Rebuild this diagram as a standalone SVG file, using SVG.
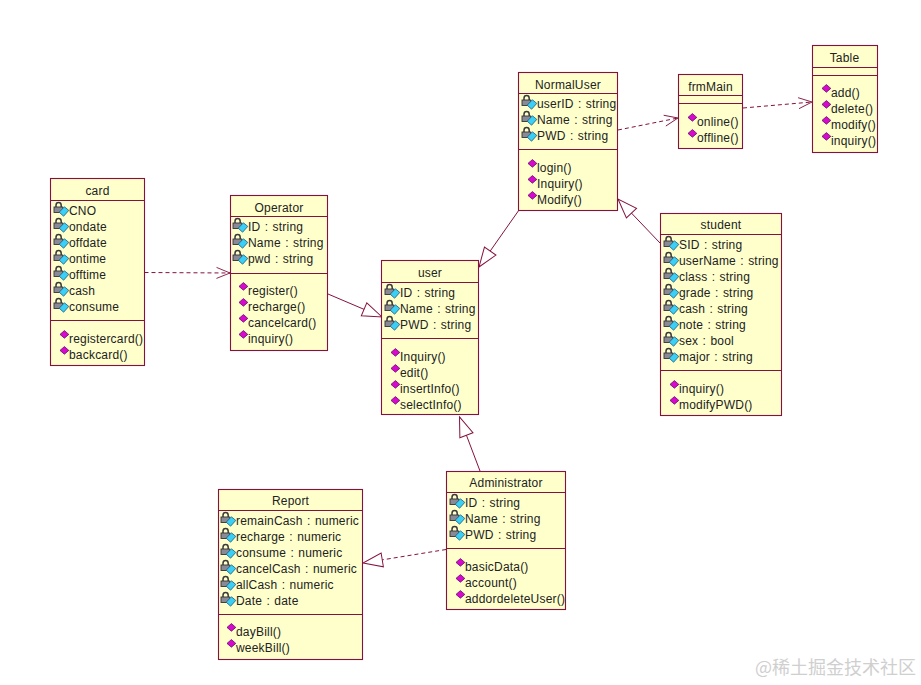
<svg xmlns="http://www.w3.org/2000/svg" width="921" height="685" viewBox="0 0 921 685">
<style>
.box{fill:#FFFFCC;stroke:#84123F;stroke-width:1.1}
.div{stroke:#84123F;stroke-width:1.1;fill:none}
.t{font-family:"Liberation Sans",Arial,sans-serif;font-size:12px;fill:#222;letter-spacing:.2px;word-spacing:.8px}
.h{text-anchor:middle}
.c{fill:none;stroke:#84123F;stroke-width:1}
.d{stroke-dasharray:4 3}
.wm{font-family:"Noto Sans CJK SC","Liberation Sans",sans-serif;font-size:18px;fill:#cfcfcf}
</style>
<defs>
<g id="a">
<path d="M-13 -8v-1.8a2.6 2.6 0 0 1 5.2 0v1.8" fill="none" stroke="#3a3a3a" stroke-width="1.5"/>
<rect x="-15" y="-8" width="8.8" height="5.5" fill="#8a8a96" stroke="#333" stroke-width="0.9"/>
<path d="M-4.6 -8.2L-0.2 -4.6L-5.4 1.2L-9.8 -2.8Z" fill="#3CCFF5" stroke="#1a5a78" stroke-width="0.8"/>
</g>
<path id="m" d="M-4.6 -12.4L-0.2 -8.6L-4.6 -4.8L-9 -8.6Z" fill="#D808D0" stroke="#601060" stroke-width="0.8"/>
<marker id="open" markerUnits="userSpaceOnUse" markerWidth="16" markerHeight="14" refX="14.5" refY="7" orient="auto" viewBox="0 0 16 14">
<path d="M1 1.5L14.5 7L1 12.5" fill="none" stroke="#84123F" stroke-width="0.9"/>
</marker>
<marker id="tri" markerUnits="userSpaceOnUse" markerWidth="24" markerHeight="18" refX="21" refY="9" orient="auto" viewBox="0 0 24 18">
<path d="M21 9L1.5 2L1.5 16Z" fill="#fff" stroke="#84123F" stroke-width="1"/>
</marker>
</defs>
<rect width="921" height="685" fill="#fff"/>
<g id="connectors">
<path class="c d" d="M144.5 272.5L230 273" marker-end="url(#open)"/>
<path class="c d" d="M618 130L678 118" marker-end="url(#open)"/>
<path class="c d" d="M743 108L812 102" marker-end="url(#open)"/>
<path class="c" d="M519 210L479 267" marker-end="url(#tri)"/>
<path class="c" d="M328 294L382 317" marker-end="url(#tri)"/>
<path class="c" d="M660 243L618 199" marker-end="url(#tri)"/>
<path class="c" d="M480 471L459.5 417" marker-end="url(#tri)"/>
<path class="c d" d="M446 549.5L363 563" marker-end="url(#tri)"/>
</g>
<g id="card">
<rect class="box" x="50.5" y="178.5" width="94" height="187"/>
<path class="div" d="M50.5 200.5H144.5M50.5 320.5H144.5"/>
<text class="t h" x="97.5" y="195">card</text>
<use href="#a" x="69" y="215"/><text class="t" x="69" y="215">CNO</text>
<use href="#a" x="69" y="231"/><text class="t" x="69" y="231">ondate</text>
<use href="#a" x="69" y="247"/><text class="t" x="69" y="247">offdate</text>
<use href="#a" x="69" y="263"/><text class="t" x="69" y="263">ontime</text>
<use href="#a" x="69" y="279"/><text class="t" x="69" y="279">offtime</text>
<use href="#a" x="69" y="295"/><text class="t" x="69" y="295">cash</text>
<use href="#a" x="69" y="311"/><text class="t" x="69" y="311">consume</text>
<use href="#m" x="69" y="343"/><text class="t" x="69" y="343">registercard()</text>
<use href="#m" x="69" y="359"/><text class="t" x="69" y="359">backcard()</text>
</g>
<g id="operator">
<rect class="box" x="230.5" y="195.5" width="97" height="155"/>
<path class="div" d="M230.5 216.5H327.5M230.5 273.5H327.5"/>
<text class="t h" x="279" y="212">Operator</text>
<use href="#a" x="248" y="231"/><text class="t" x="248" y="231">ID : string</text>
<use href="#a" x="248" y="247"/><text class="t" x="248" y="247">Name : string</text>
<use href="#a" x="248" y="263"/><text class="t" x="248" y="263">pwd : string</text>
<use href="#m" x="248" y="295"/><text class="t" x="248" y="295">register()</text>
<use href="#m" x="248" y="311"/><text class="t" x="248" y="311">recharge()</text>
<use href="#m" x="248" y="327"/><text class="t" x="248" y="327">cancelcard()</text>
<use href="#m" x="248" y="343"/><text class="t" x="248" y="343">inquiry()</text>
</g>
<g id="user">
<rect class="box" x="381.5" y="260.5" width="97" height="154"/>
<path class="div" d="M381.5 282.5H478.5M381.5 338.5H478.5"/>
<text class="t h" x="430" y="277">user</text>
<use href="#a" x="400" y="297"/><text class="t" x="400" y="297">ID : string</text>
<use href="#a" x="400" y="313"/><text class="t" x="400" y="313">Name : string</text>
<use href="#a" x="400" y="329"/><text class="t" x="400" y="329">PWD : string</text>
<use href="#m" x="400" y="361"/><text class="t" x="400" y="361">Inquiry()</text>
<use href="#m" x="400" y="377"/><text class="t" x="400" y="377">edit()</text>
<use href="#m" x="400" y="393"/><text class="t" x="400" y="393">insertInfo()</text>
<use href="#m" x="400" y="409"/><text class="t" x="400" y="409">selectInfo()</text>
</g>
<g id="normaluser">
<rect class="box" x="518.5" y="72.5" width="99" height="138"/>
<path class="div" d="M518.5 93.5H617.5M518.5 149.5H617.5"/>
<text class="t h" x="568" y="89">NormalUser</text>
<use href="#a" x="537" y="108"/><text class="t" x="537" y="108">userID : string</text>
<use href="#a" x="537" y="124"/><text class="t" x="537" y="124">Name : string</text>
<use href="#a" x="537" y="140"/><text class="t" x="537" y="140">PWD : string</text>
<use href="#m" x="537" y="172"/><text class="t" x="537" y="172">login()</text>
<use href="#m" x="537" y="188"/><text class="t" x="537" y="188">Inquiry()</text>
<use href="#m" x="537" y="204"/><text class="t" x="537" y="204">Modify()</text>
</g>
<g id="frmmain">
<rect class="box" x="678.5" y="74.5" width="64" height="74"/>
<path class="div" d="M678.5 95.5H742.5M678.5 103.5H742.5"/>
<text class="t h" x="710.5" y="91">frmMain</text>
<use href="#m" x="697" y="126"/><text class="t" x="697" y="126">online()</text>
<use href="#m" x="697" y="142"/><text class="t" x="697" y="142">offline()</text>
</g>
<g id="table">
<rect class="box" x="812.5" y="45.5" width="65" height="107"/>
<path class="div" d="M812.5 67.5H877.5M812.5 75.5H877.5"/>
<text class="t h" x="844.5" y="62">Table</text>
<use href="#m" x="831" y="97"/><text class="t" x="831" y="97">add()</text>
<use href="#m" x="831" y="113"/><text class="t" x="831" y="113">delete()</text>
<use href="#m" x="831" y="129"/><text class="t" x="831" y="129">modify()</text>
<use href="#m" x="831" y="145"/><text class="t" x="831" y="145">inquiry()</text>
</g>
<g id="student">
<rect class="box" x="660.5" y="213.5" width="121" height="202"/>
<path class="div" d="M660.5 234.5H781.5M660.5 370.5H781.5"/>
<text class="t h" x="721" y="229">student</text>
<use href="#a" x="679" y="249"/><text class="t" x="679" y="249">SID : string</text>
<use href="#a" x="679" y="265"/><text class="t" x="679" y="265">userName : string</text>
<use href="#a" x="679" y="281"/><text class="t" x="679" y="281">class : string</text>
<use href="#a" x="679" y="297"/><text class="t" x="679" y="297">grade : string</text>
<use href="#a" x="679" y="313"/><text class="t" x="679" y="313">cash : string</text>
<use href="#a" x="679" y="329"/><text class="t" x="679" y="329">note : string</text>
<use href="#a" x="679" y="345"/><text class="t" x="679" y="345">sex : bool</text>
<use href="#a" x="679" y="361"/><text class="t" x="679" y="361">major : string</text>
<use href="#m" x="679" y="393"/><text class="t" x="679" y="393">inquiry()</text>
<use href="#m" x="679" y="409"/><text class="t" x="679" y="409">modifyPWD()</text>
</g>
<g id="administrator">
<rect class="box" x="446.5" y="471.5" width="119" height="138"/>
<path class="div" d="M446.5 492.5H565.5M446.5 548.5H565.5"/>
<text class="t h" x="506" y="487">Administrator</text>
<use href="#a" x="465" y="507"/><text class="t" x="465" y="507">ID : string</text>
<use href="#a" x="465" y="523"/><text class="t" x="465" y="523">Name : string</text>
<use href="#a" x="465" y="539"/><text class="t" x="465" y="539">PWD : string</text>
<use href="#m" x="465" y="571"/><text class="t" x="465" y="571">basicData()</text>
<use href="#m" x="465" y="587"/><text class="t" x="465" y="587">account()</text>
<use href="#m" x="465" y="603"/><text class="t" x="465" y="603">addordeleteUser()</text>
</g>
<g id="report">
<rect class="box" x="218.5" y="489.5" width="144" height="170"/>
<path class="div" d="M218.5 510.5H362.5M218.5 614.5H362.5"/>
<text class="t h" x="290.5" y="505">Report</text>
<use href="#a" x="236" y="525"/><text class="t" x="236" y="525">remainCash : numeric</text>
<use href="#a" x="236" y="541"/><text class="t" x="236" y="541">recharge : numeric</text>
<use href="#a" x="236" y="557"/><text class="t" x="236" y="557">consume : numeric</text>
<use href="#a" x="236" y="573"/><text class="t" x="236" y="573">cancelCash : numeric</text>
<use href="#a" x="236" y="589"/><text class="t" x="236" y="589">allCash : numeric</text>
<use href="#a" x="236" y="605"/><text class="t" x="236" y="605">Date : date</text>
<use href="#m" x="236" y="636"/><text class="t" x="236" y="636">dayBill()</text>
<use href="#m" x="236" y="652"/><text class="t" x="236" y="652">weekBill()</text>
</g>
<text class="wm" x="755" y="674">@稀土掘金技术社区</text>
</svg>
